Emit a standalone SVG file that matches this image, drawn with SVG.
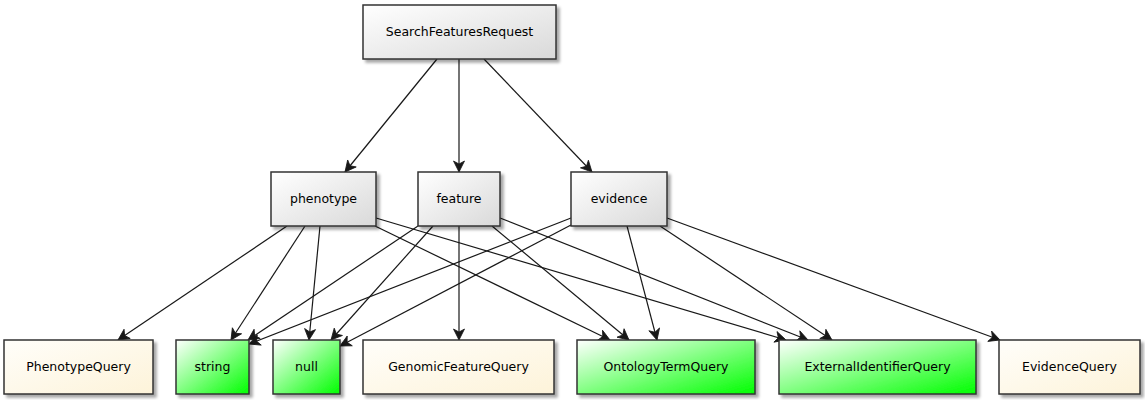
<svg xmlns="http://www.w3.org/2000/svg" width="1145" height="400" viewBox="0 0 1145 400">
<style>
.box{stroke:#333333;stroke-width:1.5}
.g{fill:url(#gGray)}
.c{fill:url(#gCream)}
.n{fill:url(#gGreen)}
text{font-family:"DejaVu Sans","Liberation Sans",sans-serif;font-size:12.5px;fill:#000;text-anchor:middle}
.e{stroke:#181818;stroke-width:1.2;fill:none;marker-end:url(#arr)}
</style>
<defs>
<linearGradient id="gGray" x1="0" y1="0" x2="1" y2="1"><stop offset="0" stop-color="#ffffff"/><stop offset="1" stop-color="#d9d9d9"/></linearGradient>
<linearGradient id="gCream" x1="0" y1="0" x2="1" y2="1"><stop offset="0" stop-color="#fffefa"/><stop offset="1" stop-color="#fdf3d9"/></linearGradient>
<linearGradient id="gGreen" x1="0" y1="0" x2="1" y2="1"><stop offset="0" stop-color="#ffffff"/><stop offset="1" stop-color="#00ff00"/></linearGradient>
<filter id="sh" x="-10%" y="-10%" width="130%" height="140%">
<feGaussianBlur in="SourceAlpha" stdDeviation="1.5"/>
<feOffset dx="3" dy="3" result="o"/>
<feComponentTransfer><feFuncA type="linear" slope="0.35"/></feComponentTransfer>
<feMerge><feMergeNode/><feMergeNode in="SourceGraphic"/></feMerge>
</filter>
<marker id="arr" markerUnits="userSpaceOnUse" markerWidth="14" markerHeight="14" viewBox="-12 -7 14 14" refX="0" refY="0" orient="auto">
<path d="M0,0 L-11,-5.5 L-8,0 L-11,5.5 Z" fill="#181818" stroke="#181818" stroke-width="0.8" stroke-linejoin="miter"/>
</marker>
</defs>
<g id="connectors">
<line class="e" x1="437" y1="59" x2="345" y2="172"/>
<line class="e" x1="459" y1="59" x2="459" y2="172"/>
<line class="e" x1="484" y1="59" x2="592" y2="172"/>
<line class="e" x1="287" y1="226" x2="118" y2="340"/>
<line class="e" x1="305" y1="226" x2="231" y2="340"/>
<line class="e" x1="320" y1="226" x2="309" y2="340"/>
<line class="e" x1="375" y1="226" x2="610" y2="340"/>
<line class="e" x1="376" y1="218" x2="786" y2="340"/>
<line class="e" x1="418" y1="226" x2="248" y2="340"/>
<line class="e" x1="433" y1="226" x2="331" y2="340"/>
<line class="e" x1="459" y1="226" x2="459" y2="340"/>
<line class="e" x1="492" y1="226" x2="629" y2="340"/>
<line class="e" x1="500" y1="218" x2="808" y2="340"/>
<line class="e" x1="571" y1="218" x2="249" y2="344"/>
<line class="e" x1="571" y1="225" x2="340" y2="346"/>
<line class="e" x1="627" y1="226" x2="657" y2="340"/>
<line class="e" x1="660" y1="226" x2="832" y2="340"/>
<line class="e" x1="667" y1="218" x2="1000" y2="340"/>
</g>
<g id="SearchFeaturesRequest"><rect class="box g" filter="url(#sh)" x="363" y="5" width="193" height="54"/><text x="459.5" y="36">SearchFeaturesRequest</text></g>
<g id="phenotype"><rect class="box g" filter="url(#sh)" x="271" y="172" width="105" height="54"/><text x="323.5" y="203">phenotype</text></g>
<g id="feature"><rect class="box g" filter="url(#sh)" x="418" y="172" width="82" height="54"/><text x="459" y="203">feature</text></g>
<g id="evidence"><rect class="box g" filter="url(#sh)" x="571" y="172" width="96" height="54"/><text x="619" y="203">evidence</text></g>
<g id="PhenotypeQuery"><rect class="box c" filter="url(#sh)" x="4" y="340" width="149" height="54"/><text x="78.5" y="371">PhenotypeQuery</text></g>
<g id="string"><rect class="box n" filter="url(#sh)" x="176" y="340" width="73" height="54"/><text x="212.5" y="371">string</text></g>
<g id="null"><rect class="box n" filter="url(#sh)" x="273" y="340" width="67" height="54"/><text x="306.5" y="371">null</text></g>
<g id="GenomicFeatureQuery"><rect class="box c" filter="url(#sh)" x="363" y="340" width="191" height="54"/><text x="458.5" y="371">GenomicFeatureQuery</text></g>
<g id="OntologyTermQuery"><rect class="box n" filter="url(#sh)" x="577" y="340" width="178" height="54"/><text x="666" y="371">OntologyTermQuery</text></g>
<g id="ExternalIdentifierQuery"><rect class="box n" filter="url(#sh)" x="779" y="340" width="197" height="54"/><text x="877.5" y="371">ExternalIdentifierQuery</text></g>
<g id="EvidenceQuery"><rect class="box c" filter="url(#sh)" x="999" y="340" width="141" height="54"/><text x="1069.5" y="371">EvidenceQuery</text></g>
</svg>
